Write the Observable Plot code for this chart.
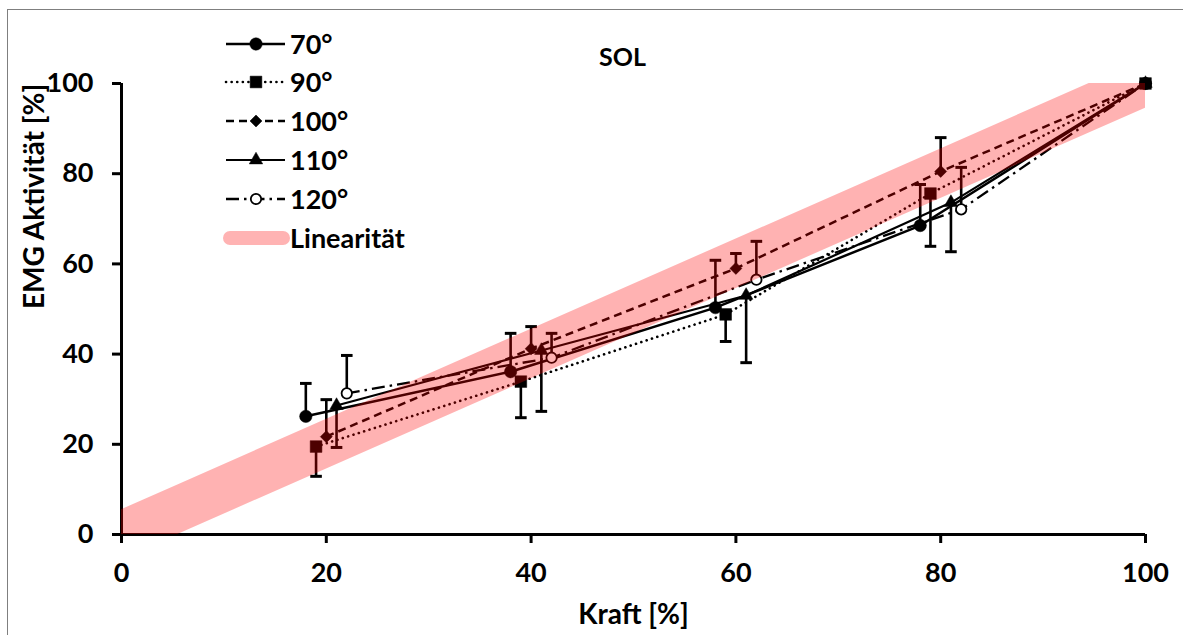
<!DOCTYPE html>
<html><head><meta charset="utf-8">
<script src="https://cdn.jsdelivr.net/npm/d3@7"></script>
<script src="https://cdn.jsdelivr.net/npm/@observablehq/plot@0.6"></script>
<style>
html,body{margin:0;padding:0;background:#fff;overflow:hidden;}
#wrap{position:relative;width:1183px;height:635px;font-family:Lato,sans-serif;}
#border{position:absolute;left:7px;top:9px;width:1220px;height:680px;border:1.5px solid #7f7f7f;box-sizing:border-box;}
#chart{position:absolute;left:0;top:0;}
#legend{position:absolute;left:0;top:0;}
</style></head><body>
<div id="wrap"><div id="border"></div><div id="chart"></div><svg id="legend" width="1183" height="635"></svg></div>
<script>
// ---- data ----
const xTicks = [0, 20, 40, 60, 80, 100];
const yTicks = [0, 20, 40, 60, 80, 100];
const seriesNames = ["70°", "90°", "100°", "110°", "120°"];

const x70 = [18, 38, 58, 78, 100];
const y70 = [26.2, 36.1, 50.3, 68.5, 100];
const err70 = [33.5, 44.6, 60.8, 77.6, null];   // upper bar end

const x90 = [19, 39, 59, 79, 100];
const y90 = [19.5, 33.9, 48.8, 75.6, 100];
const err90 = [12.9, 25.9, 42.8, 63.9, null];   // lower bar end

const x100 = [20, 40, 60, 80, 100];
const y100 = [21.7, 41.2, 59.0, 80.5, 100];
const err100 = [29.9, 46.1, 62.3, 88.0, null];

const x110 = [21, 41, 61, 81, 100];
const y110 = [28.6, 40.8, 53.0, 73.6, 100];
const err110 = [19.3, 27.3, 38.1, 62.7, null];

const x120 = [22, 42, 62, 82, 100];
const y120 = [31.3, 39.2, 56.5, 72.1, 100];
const err120 = [39.7, 44.6, 65.0, 81.4, null];

// linearity band (Linearität)
const bandX = [0, 5.5, 94.5, 100];
const bandLow = [0, 0, 89, 94.5];
const bandHigh = [5.5, 11, 100, 100];

const titleText = "SOL";
const xLabel = "Kraft [%]";
const yLabel = "EMG Aktivität [%]";
const bandLabel = "Linearität";

// ---- styles ----
const styles = {
  "70°":  {dash: null, width: 2.5, symbol: "circle", r: 6.2, fill: "black"},
  "90°":  {dash: "0.1,5.5", width: 2.6, symbol: "square", r: 6.6, fill: "black"},
  "100°": {dash: "8,5", width: 2.5, symbol: "diamond2", r: 5.4, fill: "black"},
  "110°": {dash: null, width: 2.2, symbol: "triangle", r: 5.0, fill: "black"},
  "120°": {dash: "13,5,2.5,5", width: 2.3, symbol: "circle", r: 5.2, fill: "white"}
};
const markerOrder = ["70°", "100°", "110°", "120°", "90°"];

const raw = {
  "70°": [x70, y70, err70], "90°": [x90, y90, err90], "100°": [x100, y100, err100],
  "110°": [x110, y110, err110], "120°": [x120, y120, err120]
};
const rows = seriesNames.map(name => {
  const [xs, ys, es] = raw[name];
  return {name, pts: xs.map((x, i) => ({x, y: ys[i], e: es[i]}))};
});
const rowByName = Object.fromEntries(rows.map(r => [r.name, r]));
const band = bandX.map((x, i) => ({x, lo: bandLow[i], hi: bandHigh[i]}));

const capSymbol = {draw(ctx, size) { const w = Math.sqrt(size / Math.PI); ctx.moveTo(-w, 0); ctx.lineTo(w, 0); }};

const FONT = "Lato, sans-serif";
const marks = [];
marks.push(Plot.axisX(xTicks, {tickSize: 9, tickPadding: 19, strokeWidth: 3, fontSize: 27, fontWeight: "bold", label: null}));
marks.push(Plot.axisY(yTicks, {tickSize: 9, tickPadding: 19, strokeWidth: 3, fontSize: 27, fontWeight: "bold", label: null}));
marks.push(Plot.ruleY([0], {strokeWidth: 3}));
marks.push(Plot.ruleX([0], {strokeWidth: 3}));

for (const s of rows) {
  const st = styles[s.name];
  marks.push(Plot.line(s.pts, {x: "x", y: "y", stroke: "black", strokeWidth: st.width,
    strokeDasharray: st.dash, strokeLinecap: st.dash && st.dash.startsWith("0.1") ? "round" : "butt"}));
}
for (const s of rows) {
  const eb = s.pts.filter(d => d.e != null);
  marks.push(Plot.ruleX(eb, {x: "x", y1: "y", y2: "e", stroke: "black", strokeWidth: 2.6}));
  marks.push(Plot.dot(eb, {x: "x", y: "e", symbol: capSymbol, r: 5.8, stroke: "black", strokeWidth: 3}));
}
for (const name of markerOrder) {
  const s = rowByName[name];
  const st = styles[name];
  marks.push(Plot.dot(s.pts, {x: "x", y: "y", symbol: st.symbol, r: st.r, fill: st.fill,
    stroke: "black", strokeWidth: st.fill === "white" ? 1.8 : 0.5}));
}
marks.push(Plot.areaY(band, {x: "x", y1: "lo", y2: "hi", fill: "red", fillOpacity: 0.3}));

marks.push(Plot.text([titleText], {text: d => d, frameAnchor: "top", lineAnchor: "middle", dx: -11, dy: -26, fontSize: 25, fontWeight: "bold"}));
marks.push(Plot.text([xLabel], {text: d => d, frameAnchor: "bottom", lineAnchor: "middle", dy: 81, fontSize: 28, fontWeight: "bold"}));
marks.push(Plot.text([yLabel], {text: d => d, frameAnchor: "left", lineAnchor: "middle", dx: -86, dy: 0, rotate: -90, fontSize: 28, fontWeight: "bold"}));

const chart = Plot.plot({
  width: 1183, height: 635,
  marginLeft: 121, marginRight: 38, marginTop: 83, marginBottom: 101,
  x: {domain: [0, 100]},
  y: {domain: [0, 100]},
  style: {fontFamily: FONT, color: "black", background: "transparent", overflow: "visible"},
  marks
});
document.getElementById("chart").appendChild(chart);

// ---- legend ----
const lg = d3.select("#legend");
const rowY = [44, 82, 121, 160, 199, 238];
const lx0 = 226, lx1 = 285, lxm = 256;
seriesNames.forEach((name, i) => {
  const st = styles[name];
  const y = rowY[i];
  lg.append("line").attr("x1", lx0).attr("x2", lx1).attr("y1", y).attr("y2", y)
    .attr("stroke", "black").attr("stroke-width", st.width)
    .attr("stroke-dasharray", st.dash).attr("stroke-linecap", st.dash && st.dash.startsWith("0.1") ? "round" : "butt");
  const sym = {circle: d3.symbolCircle, square: d3.symbolSquare, diamond2: d3.symbolDiamond2, triangle: d3.symbolTriangle}[st.symbol];
  lg.append("path").attr("transform", `translate(${lxm},${y})`)
    .attr("d", d3.symbol(sym, Math.PI * st.r * st.r)())
    .attr("fill", st.fill).attr("stroke", "black").attr("stroke-width", st.fill === "white" ? 1.8 : 0.5);
  lg.append("text").attr("x", 290).attr("y", y).attr("dy", "0.36em")
    .attr("font-family", FONT).attr("font-weight", "bold").attr("font-size", 27).text(name);
});
lg.append("line").attr("x1", 230).attr("x2", 283).attr("y1", rowY[5]).attr("y2", rowY[5])
  .attr("stroke", "#ffb3b3").attr("stroke-width", 14).attr("stroke-linecap", "round");
lg.append("text").attr("x", 290).attr("y", rowY[5]).attr("dy", "0.36em")
  .attr("font-family", FONT).attr("font-weight", "bold").attr("font-size", 27).text(bandLabel);
</script>
</body></html>
